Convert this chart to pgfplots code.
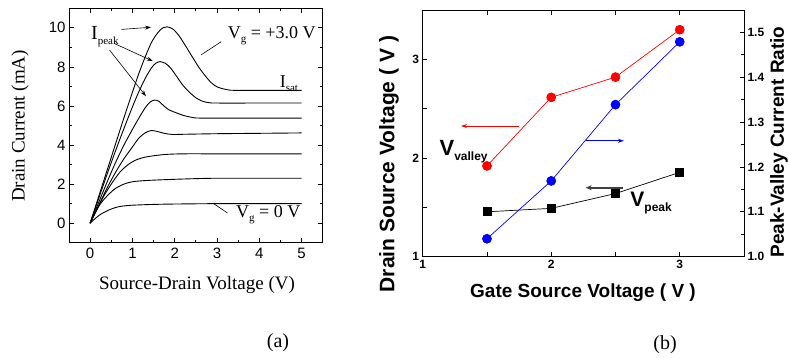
\documentclass[border=0pt]{standalone}
\usepackage{pgfplots}
\pgfplotsset{compat=1.18}
\usepackage{fontspec}
\setmainfont{Liberation Serif}
\newfontfamily\arial{Liberation Sans}
\usetikzlibrary{arrows.meta}
\pgfplotsset{idcurve/.style={black, solid, line width=0.9pt, smooth, no marks}}
\begin{document}
\begin{tikzpicture}
\path[use as bounding box] (0pt,0pt) rectangle (789pt,357pt);
% ---------------- panel (a) ----------------
\begin{axis}[
  at={(69pt,114.3pt)}, anchor=south west,
  scale only axis, width=253.7pt, height=234.4pt,
  xmin=-0.5, xmax=5.5, ymin=-1, ymax=11,
  xtick={0,1,2,3,4,5}, ytick={0,2,4,6,8,10},
  minor xtick={0.5,1.5,2.5,3.5,4.5}, minor ytick={-1,1,3,5,7,9},
  tick align=inside, major tick length=4.5pt, minor tick length=3pt,
  /pgf/number format/assume math mode=true,
  tick label style={font=\arial\fontsize{15pt}{15pt}\selectfont},
  xticklabel style={yshift=-1.5pt},
  axis line style={line width=0.9pt},
  every tick/.style={black, line width=0.8pt},
  clip=false,
]
% Vg = 0 V
\addplot[idcurve] coordinates {(0,0) (0.1,0.2) (0.2,0.38) (0.3,0.52) (0.45,0.68) (0.6,0.8) (0.75,0.87) (1.0,0.92) (1.5,0.96) (2.0,0.98) (3,1.0) (4,1.0) (5,1.0)};
% Vg = 0.5 V
\addplot[idcurve] coordinates {(0,0) (0.1,0.45) (0.2,0.85) (0.3,1.15) (0.45,1.5) (0.6,1.78) (0.8,2.0) (1.0,2.12) (1.3,2.18) (1.8,2.23) (2.5,2.28) (3,2.3) (4,2.3) (5,2.3)};
% Vg = 1.0 V
\addplot[idcurve] coordinates {(0,0) (0.15,0.65) (0.3,1.3) (0.5,2.0) (0.7,2.6) (0.9,3.0) (1.1,3.25) (1.3,3.38) (1.5,3.45) (1.8,3.52) (2.2,3.55) (3,3.55) (4,3.55) (5,3.55)};
% Vg = 1.5 V
\addplot[idcurve] coordinates {(0,0) (0.2,0.9) (0.4,1.8) (0.6,2.6) (0.8,3.3) (1.0,3.9) (1.15,4.35) (1.3,4.62) (1.44,4.74) (1.58,4.7) (1.75,4.6) (1.95,4.54) (2.2,4.55) (3,4.58) (4,4.6) (5,4.62)};
% Vg = 2.0 V
\addplot[idcurve] coordinates {(0,0) (0.2,1.05) (0.4,2.1) (0.6,3.1) (0.8,4.0) (1.0,4.8) (1.15,5.37) (1.3,5.9) (1.42,6.2) (1.52,6.3) (1.62,6.25) (1.72,6.05) (1.85,5.82) (2.0,5.68) (2.2,5.52) (2.4,5.42) (2.6,5.38) (3.5,5.38) (5,5.38)};
% Vg = 2.5 V
\addplot[idcurve] coordinates {(0,0) (0.2,1.25) (0.4,2.5) (0.6,3.7) (0.8,4.85) (1.0,5.95) (1.15,6.72) (1.3,7.4) (1.45,7.95) (1.55,8.18) (1.65,8.27) (1.78,8.18) (1.9,7.95) (2.05,7.5) (2.19,7.07) (2.35,6.7) (2.5,6.42) (2.65,6.25) (2.8,6.17) (3.0,6.15) (4,6.15) (5,6.15)};
% Vg = 3.0 V
\addplot[idcurve] coordinates {(0,0) (0.2,1.35) (0.4,2.7) (0.6,4.05) (0.8,5.4) (1.0,6.7) (1.15,7.65) (1.3,8.5) (1.45,9.25) (1.6,9.75) (1.72,10.0) (1.82,10.05) (1.95,9.95) (2.1,9.6) (2.27,9.03) (2.42,8.5) (2.58,7.95) (2.72,7.55) (2.86,7.2) (3.0,6.98) (3.2,6.85) (3.4,6.8) (4,6.8) (5,6.8)};
% annotations
\node[anchor=base west, inner sep=0pt, font=\fontsize{20pt}{20pt}\selectfont] at (axis cs:0.02,9.38) {I\raisebox{-5pt}{\fontsize{11pt}{11pt}\selectfont peak}};
\draw[line width=0.6pt, -{Stealth[length=6pt,width=4pt]}] (axis cs:0.74,9.92) -- (axis cs:1.44,10.03);
\draw[line width=0.6pt, -{Stealth[length=6pt,width=4pt]}] (axis cs:0.57,9.2) -- (axis cs:1.48,8.3);
\draw[line width=0.6pt, -{Stealth[length=6pt,width=4pt]}] (axis cs:0.46,8.86) -- (axis cs:1.32,6.5);
\node[anchor=base west, inner sep=0pt, font=\fontsize{18pt}{18pt}\selectfont] at (axis cs:3.25,9.46) {V\raisebox{-4pt}{\fontsize{11pt}{11pt}\selectfont g} = +3.0 V};
\draw[line width=0.6pt] (axis cs:3.1,9.29) -- (axis cs:2.62,8.61);
\node[anchor=base west, inner sep=0pt, font=\fontsize{18pt}{18pt}\selectfont] at (axis cs:4.48,6.96) {I\raisebox{-4pt}{\fontsize{11pt}{11pt}\selectfont sat}};
\node[anchor=base west, inner sep=0pt, font=\fontsize{18pt}{18pt}\selectfont] at (axis cs:3.45,0.3) {V\raisebox{-4pt}{\fontsize{11pt}{11pt}\selectfont g} = 0 V};
\draw[line width=0.6pt] (axis cs:3.25,0.52) -- (axis cs:2.92,1.0);
\end{axis}
\node[font=\fontsize{19pt}{19pt}\selectfont] at (197pt,72pt) {Source-Drain Voltage (V)};
\node[rotate=90, font=\fontsize{19pt}{19pt}\selectfont] at (20pt,231pt) {Drain Current (mA)};
\node[font=\fontsize{20pt}{20pt}\selectfont] at (278pt,14pt) {(a)};
% ---------------- panel (b) ----------------
\begin{axis}[
  at={(422.7pt,100.3pt)}, anchor=south west,
  scale only axis, width=321.3pt, height=246.7pt,
  xmin=1, xmax=3.5, ymin=1, ymax=3.5,
  xtick={1,2,3}, minor xtick={1.5,2.5},
  ytick={1,2,3}, minor ytick={1.5,2.5},
  ytick pos=left,
  tick align=inside, major tick length=4.5pt, minor tick length=4.5pt,
  /pgf/number format/assume math mode=true,
  tick label style={font=\arial\bfseries\fontsize{12pt}{12pt}\selectfont},
  axis line style={line width=0.9pt},
  every tick/.style={black, line width=0.8pt},
  clip=false,
]
\addplot[red, line width=0.7pt, mark=*, mark size=4.5pt, mark options={solid, fill=red, draw=red}]
  coordinates {(1.5,1.92) (2,2.615) (2.5,2.82) (3,3.30)};
\addplot[black, line width=0.7pt, mark=square*, mark size=4pt, mark options={solid, fill=black}]
  coordinates {(1.5,1.455) (2,1.49) (2.5,1.64) (3,1.855)};
\draw[red, line width=0.8pt, -{Stealth[length=6pt,width=4pt]}] (axis cs:1.749,2.324) -- (axis cs:1.298,2.324);
\draw[blue, line width=0.8pt, -{Stealth[length=6pt,width=4pt]}] (axis cs:2.268,2.175) -- (axis cs:2.566,2.175);
\draw[black!75, line width=1.6pt, -{Stealth[length=6pt,width=5pt]}] (axis cs:2.559,1.699) -- (axis cs:2.268,1.699);
\node[anchor=base west, inner sep=0pt, font=\arial\bfseries\fontsize{22pt}{22pt}\selectfont] at (axis cs:1.13,2.03) {V\raisebox{-5pt}{\fontsize{12pt}{12pt}\selectfont valley}};
\node[anchor=base west, inner sep=0pt, font=\arial\bfseries\fontsize{21pt}{21pt}\selectfont] at (axis cs:2.615,1.507) {V\raisebox{-5pt}{\fontsize{12pt}{12pt}\selectfont peak}};
\end{axis}
\begin{axis}[
  at={(422.7pt,100.3pt)}, anchor=south west,
  scale only axis, width=321.3pt, height=246.7pt,
  xmin=1, xmax=3.5, ymin=1, ymax=1.55,
  axis y line*=right, axis x line=none,
  ytick={1.0,1.1,1.2,1.3,1.4,1.5}, minor ytick={1.05,1.15,1.25,1.35,1.45},
  tick align=inside, major tick length=4.5pt, minor tick length=3pt,
  /pgf/number format/assume math mode=true,
  yticklabel style={font=\arial\bfseries\fontsize{12pt}{12pt}\selectfont, /pgf/number format/.cd, fixed, fixed zerofill, precision=1},
  axis line style={line width=0.9pt},
  every tick/.style={black, line width=0.8pt},
]
\addplot[blue, line width=0.7pt, mark=*, mark size=4.5pt, mark options={solid, fill=blue, draw=blue}]
  coordinates {(1.5,1.04) (2,1.169) (2.5,1.339) (3,1.479)};
\end{axis}
\node[font=\arial\bfseries\fontsize{19pt}{19pt}\selectfont] at (583pt,64pt) {Gate Source Voltage ( V )};
\node[rotate=90, font=\arial\bfseries\fontsize{21pt}{21pt}\selectfont] at (389pt,193pt) {Drain Source Voltage ( V )};
\node[rotate=90, font=\arial\bfseries\fontsize{19pt}{19pt}\selectfont] at (779pt,215pt) {Peak-Valley Current Ratio};
\node[font=\fontsize{20pt}{20pt}\selectfont] at (665pt,12pt) {(b)};
\end{tikzpicture}
\end{document}
